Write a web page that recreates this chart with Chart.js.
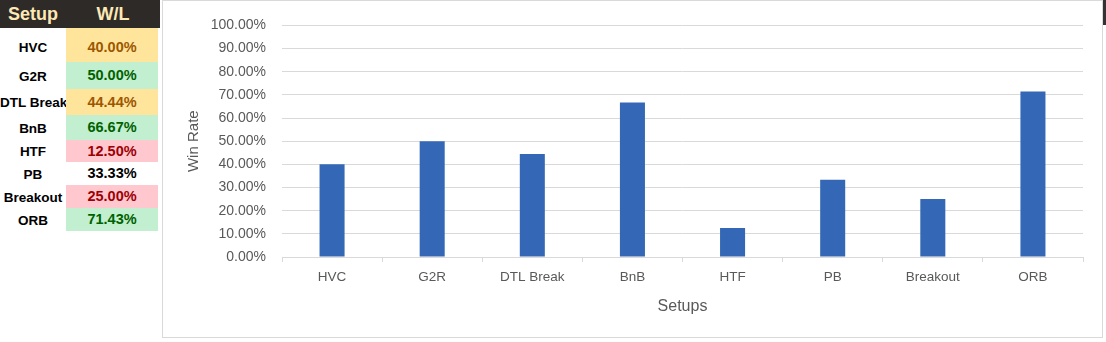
<!DOCTYPE html>
<html>
<head>
<meta charset="utf-8">
<script src="https://cdn.jsdelivr.net/npm/chart.js@4.4.1/dist/chart.umd.min.js"></script>
<style>
  html, body { margin: 0; padding: 0; background: #ffffff; width: 1106px; height: 342px; overflow: hidden; }
  #tbl { position: absolute; left: 0; top: 0; width: 160px; font-family: "Liberation Sans", Arial, sans-serif; }
  .hdr { position: absolute; left: 0; top: 0; width: 160px; height: 28px; background: #2e2a27; color: #fde9b5; font-weight: bold; font-size: 18px; }
  .hdr span { position: absolute; top: 4px; text-align: center; }
  .row { position: absolute; left: 0; width: 160px; font-weight: bold; }
  .row .lab { position: absolute; left: 0; width: 66px; text-align: center; font-size: 13.5px; color: #000; white-space: nowrap; }
  .row .val { position: absolute; left: 66px; width: 92px; text-align: center; font-size: 14.5px; color: #000; }
  .good { background: #c2efcf; color: #006100 !important; }
  .neutral { background: #ffe49c; color: #9c5700 !important; }
  .bad { background: #ffc7ce; color: #9c0006 !important; }
  #box { position: absolute; left: 162px; top: 0px; width: 939px; height: 336px; border: 1px solid #d9d9d9; background: #fff; }
  #edge { position: absolute; left: 1103px; top: 0; width: 3px; height: 25px; background: #333; }
</style>
</head>
<body>
<div id="tbl"></div>
<div id="box"><canvas id="c" width="939" height="336"></canvas></div>
<div id="edge"></div>
<script>
const categories = ["HVC", "G2R", "DTL Break", "BnB", "HTF", "PB", "Breakout", "ORB"];
const winRates = [0.40, 0.50, 0.4444, 0.6667, 0.125, 0.3333, 0.25, 0.7143];
const yTicks = [0, 0.1, 0.2, 0.3, 0.4, 0.5, 0.6, 0.7, 0.8, 0.9, 1.0];
const tableHeaders = ["Setup", "W/L"];
const yTitle = "Win Rate";
const xTitle = "Setups";

// ---- left table (spreadsheet cells) ----
const rowTops = [28, 62, 89, 115, 140, 162, 185, 208, 231];
const tbl = document.getElementById('tbl');
const hdr = document.createElement('div');
hdr.className = 'hdr';
hdr.innerHTML = '<span style="left:0;width:66px">' + tableHeaders[0] + '</span><span style="left:66px;width:94px">' + tableHeaders[1] + '</span>';
tbl.appendChild(hdr);
function cls(v) {
  if (v >= 0.5) return 'good';
  if (v >= 0.4) return 'neutral';
  if (v <= 0.25) return 'bad';
  return '';
}
categories.forEach((c, i) => {
  const top = rowTops[i], h = rowTops[i + 1] - rowTops[i];
  const r = document.createElement('div');
  r.className = 'row';
  r.style.top = top + 'px';
  r.style.height = h + 'px';
  const lab = document.createElement('div');
  lab.className = 'lab';
  lab.textContent = c;
  const val = document.createElement('div');
  val.className = 'val ' + cls(winRates[i]);
  val.textContent = (winRates[i] * 100).toFixed(2) + '%';
  const tpad = i === 0 ? 11 : Math.round((h - 16) / 2);
  lab.style.top = (tpad + 1) + 'px';
  val.style.top = '0px';
  val.style.height = h + 'px';
  val.style.lineHeight = (i === 0 ? h + 4 : h) + 'px';
  r.appendChild(lab);
  r.appendChild(val);
  tbl.appendChild(r);
});

// ---- chart ----
const grey = '#595959';
new Chart(document.getElementById('c'), {
  type: 'bar',
  data: {
    labels: categories,
    datasets: [{
      data: winRates,
      backgroundColor: '#3468b6',
      borderWidth: 0,
      categoryPercentage: 1.0,
      barPercentage: 0.25
    }]
  },
  options: {
    responsive: false,
    animation: false,
    layout: { padding: { left: 0, right: 19, top: 18, bottom: 0 } },
    plugins: { legend: { display: false }, tooltip: { enabled: false } },
    scales: {
      x: {
        grid: { drawOnChartArea: false, offset: true, tickLength: 5, color: '#d9d9d9' },
        border: { color: '#d9d9d9' },
        ticks: { color: grey, font: { family: 'Liberation Sans', size: 13.5 }, padding: 7, maxRotation: 0 },
        title: { display: true, text: xTitle, color: grey, font: { family: 'Liberation Sans', size: 16 }, padding: { top: 0, bottom: 21 } },
        afterFit: (s) => { s.height = 80; }
      },
      y: {
        min: 0, max: 1,
        afterBuildTicks: (s) => { s.ticks = yTicks.map(v => ({ value: v })); },
        grid: { drawTicks: false, color: '#d9d9d9' },
        border: { display: false },
        ticks: {
          color: grey, font: { family: 'Liberation Sans', size: 14 }, padding: 16,
          callback: (v) => (v * 100).toFixed(2) + '%'
        },
        title: { display: true, text: yTitle, color: grey, font: { family: 'Liberation Sans', size: 15 }, padding: { top: 22, bottom: 0 } },
        afterFit: (s) => { s.width = 119; }
      }
    }
  }
});
</script>
</body>
</html>
